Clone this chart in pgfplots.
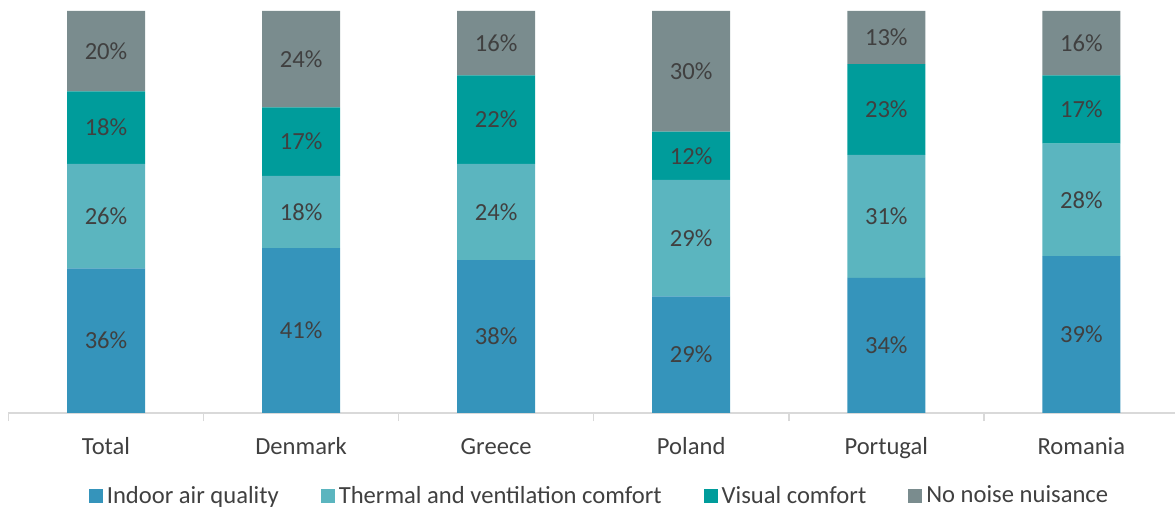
\documentclass[border=0pt]{standalone}
\usepackage{fontspec}
\setmainfont{Carlito}
\usepackage{pgfplots}
\usepackage{pgfplotstable}
\pgfplotsset{compat=1.18}
\definecolor{cIAQ}{HTML}{3594BB}
\definecolor{cTherm}{HTML}{5BB5BF}
\definecolor{cVis}{HTML}{009C9B}
\definecolor{cNoise}{HTML}{7A8C8E}
\definecolor{txt}{HTML}{404040}
\definecolor{axgray}{HTML}{D9D9D9}
\pgfplotstableread{
x iaq thermal visual noise
0 36 26 18 20
1 41 18 17 24
2 38 24 22 16
3 29 29 12 30
4 33.6 30.6 22.6 13.2
5 39 28 17 16
}\datatable
\newcommand{\lblfont}{\fontsize{12.3}{14}\selectfont}
\begin{document}
\begin{tikzpicture}
\useasboundingbox (-4.25pt,-48pt) rectangle (583.25pt,206.5pt);
\begin{axis}[
  scale only axis,
  width=583.25pt, height=201pt,
  ybar stacked, bar width=39pt,
  xmin=-0.5, xmax=5.48,
  ymin=0, ymax=100,
  axis x line*=bottom,
  hide y axis,
  axis line style={draw=axgray, line width=0.75pt},
  xtick={0,...,5},
  xticklabels={Total,Denmark,Greece,Poland,Portugal,Romania},
  major tick length=0pt,
  minor xtick={-0.5,0.5,1.5,2.5,3.5,4.5},
  minor tick length=4pt,
  tick align=outside,
  minor tick style={draw=axgray, line width=0.75pt},
  xticklabel style={font=\lblfont, text=txt, anchor=base, yshift=-20.5pt},
  /pgf/number format/assume math mode=true,
  visualization depends on={rawy \as \segval},
  nodes near coords={\pgfmathprintnumber[fixed,precision=0,assume math mode=true]{\segval}\%},
  every node near coord/.append style={font=\lblfont, text=txt, anchor=center},
  legend columns=4,
  legend style={draw=none, fill=none, font=\lblfont, text=txt,
    at={(0.5075,0)}, anchor=center, yshift=-41.5pt,
    /tikz/every even column/.append style={column sep=19pt}},
  legend image code/.code={\fill[#1] (-1.5pt,-3.5pt) rectangle (5.5pt,3.5pt);},
]
\addplot[fill=cIAQ, draw=none] table[x=x, y=iaq] {\datatable};
\addplot[fill=cTherm, draw=none] table[x=x, y=thermal] {\datatable};
\addplot[fill=cVis, draw=none] table[x=x, y=visual] {\datatable};
\addplot[fill=cNoise, draw=none] table[x=x, y=noise] {\datatable};
\legend{Indoor air quality, Thermal and ventilation comfort, Visual comfort, No noise nuisance}
\end{axis}
\end{tikzpicture}
\end{document}
